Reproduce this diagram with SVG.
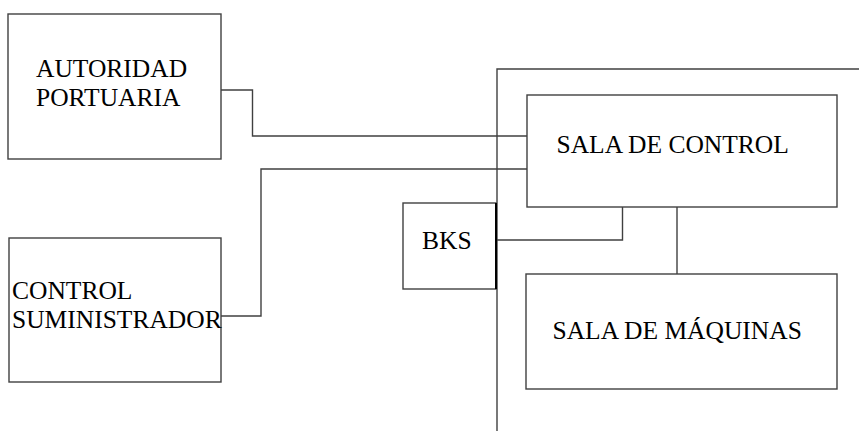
<svg xmlns="http://www.w3.org/2000/svg" width="859" height="431" viewBox="0 0 859 431">
<style>
.box{fill:#fff;stroke:#404040;stroke-width:1.4}
.ln{fill:none;stroke:#404040;stroke-width:1.4}
.t{font-family:'Liberation Serif','Tinos','Times New Roman','DejaVu Serif',serif;font-size:25.5px;fill:#000}
</style>
<rect width="859" height="431" fill="#fff"/>
<g id="connectors">
<polyline class="ln" points="221,90 252.5,90 252.5,136 527,136"/>
<polyline class="ln" points="221,316 261,316 261,169 527,169"/>
<polyline class="ln" points="497,431 497,69 859,69"/>
<polyline class="ln" points="497,240 622.5,240 622.5,207"/>
<line class="ln" x1="677" y1="207" x2="677" y2="274"/>
</g>
<g id="autoridad">
<rect class="box" x="8" y="14" width="213" height="145"/>
<text class="t" x="36" y="77">AUTORIDAD</text>
<text class="t" x="36" y="106">PORTUARIA</text>
</g>
<g id="suministrador">
<rect class="box" x="9" y="238" width="212" height="144"/>
<text class="t" x="12" y="299">CONTROL</text>
<text class="t" x="12" y="328">SUMINISTRADOR</text>
</g>
<g id="bks">
<rect class="box" x="403" y="203" width="93" height="86"/>
<line x1="496" y1="203" x2="496" y2="289" stroke="#000" stroke-width="2"/>
<text class="t" x="422" y="249">BKS</text>
</g>
<g id="sala-control">
<rect class="box" x="527" y="95" width="310" height="112"/>
<text class="t" x="556.5" y="152.5">SALA DE CONTROL</text>
</g>
<g id="sala-maquinas">
<rect class="box" x="526" y="274" width="311" height="115"/>
<text class="t" x="552.5" y="339">SALA DE MÁQUINAS</text>
</g>
</svg>
